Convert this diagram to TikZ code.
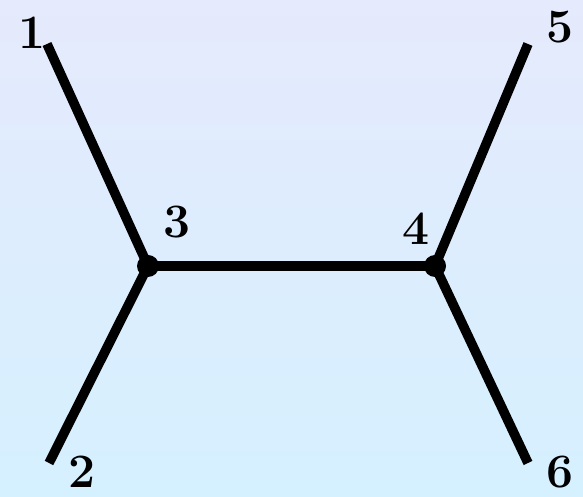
\documentclass[tikz,border=0pt]{standalone}
\usepackage{tikz}
\usetikzlibrary{positioning}
\definecolor{bgtop}{RGB}{229,234,252}
\definecolor{bgbottom}{RGB}{213,240,255}
\tikzset{
	edge/.style={line width=4.8pt,black},
	vertex/.style={circle,fill=black,inner sep=0pt,minimum size=11pt},
	lbl/.style={inner sep=0pt,font=\fontsize{24}{28}\selectfont\bfseries}
}
\begin{document}
\begin{tikzpicture}[x=0.5pt,y=0.5pt]
		
		% --- background ---
		\shade[top color=bgtop,bottom color=bgbottom] (0,0) rectangle (583,497);
		\useasboundingbox (0,0) rectangle (583,497);
		
		% ======================================================
		% end points and inner vertices
		% ======================================================
		\coordinate (p1) at (47,453);
		\coordinate (p2) at (49,34);
		\coordinate (p5) at (528,453);
		\coordinate (p6) at (528,34);
		\node[vertex] (v3) at (148,231) {};
		\node[vertex] (v4) at (435,231) {};
		
		% edges
		\draw[edge] (p1) -- (v3.center);
		\draw[edge] (p2) -- (v3.center);
		\draw[edge] (v3.center) -- (v4.center);
		\draw[edge] (v4.center) -- (p5);
		\draw[edge] (v4.center) -- (p6);
		
		% labels
		\node[lbl] (l1) at (32,464) {1};
		\node[lbl] (l2) at (82,25) {2};
		\node[lbl] (l3) at (177,275) {3};
		\node[lbl] (l4) at (416,268) {4};
		\node[lbl] (l5) at (560,470) {5};
		\node[lbl] (l6) at (560,25) {6};
		
	\end{tikzpicture}
\end{document}
